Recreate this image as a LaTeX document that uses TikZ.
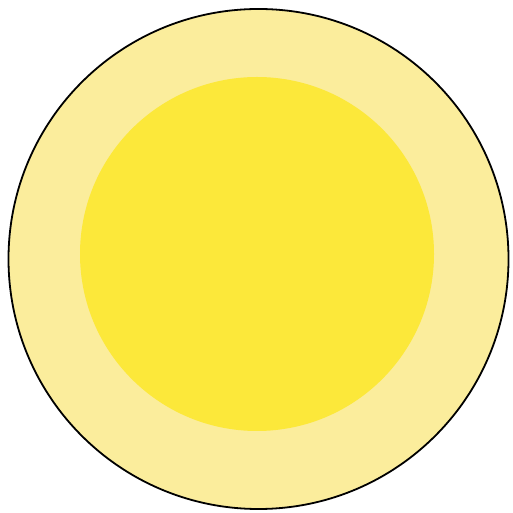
\documentclass[tikz,border=0pt]{standalone}
\usepackage{tikz}
\definecolor{rimyellow}{HTML}{FBED9C}
\definecolor{coreyellow}{HTML}{FCE83A}
\tikzset{
  rim/.style={circle,draw=black,line width=1.8pt,fill=rimyellow,inner sep=0pt,minimum size=500pt},
  core/.style={circle,fill=coreyellow,inner sep=0pt,minimum size=354pt}
}

\begin{document}
\begin{tikzpicture}[x=1pt,y=1pt]
\useasboundingbox (0,0) rectangle (512,513);
\node[rim] (outer) at (258.5,254) {};
\node[core] (inner) at (257,259) {};
\end{tikzpicture}
\end{document}
